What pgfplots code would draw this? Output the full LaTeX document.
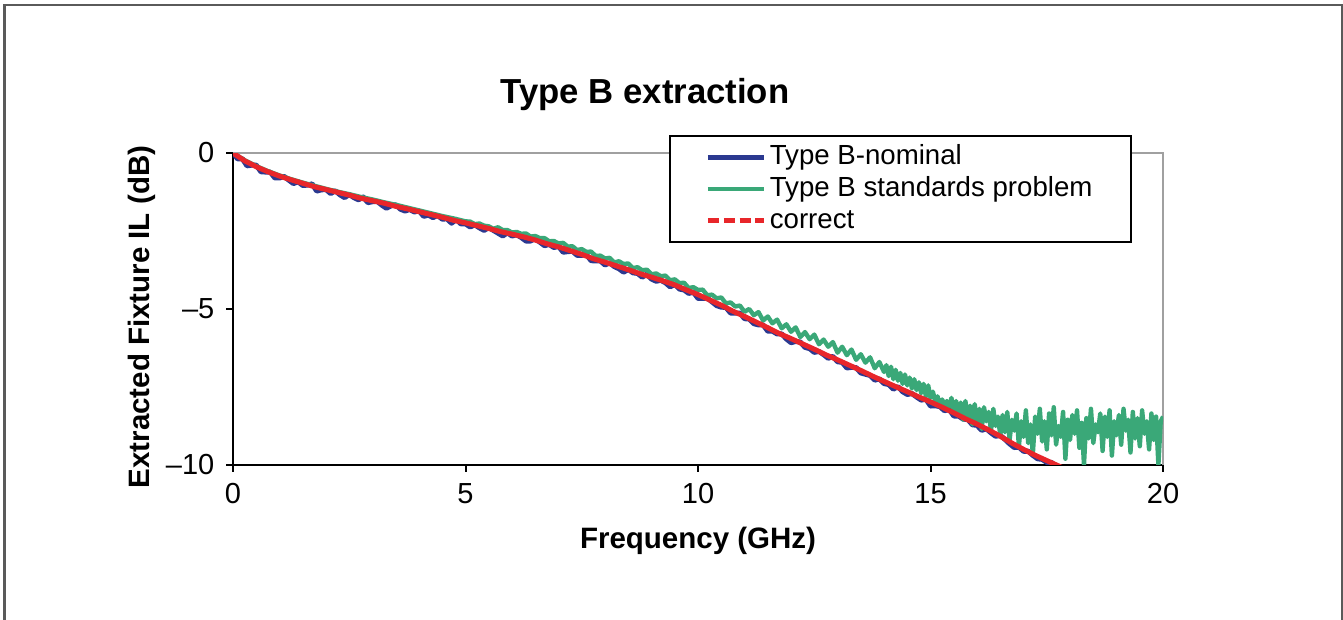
\documentclass[border=0pt]{standalone}
\usepackage{fontspec}
\setmainfont{Liberation Sans}
\usepackage{pgfplots}
\usepackage{pgfplotstable}
\pgfplotsset{compat=1.18}

\definecolor{nomblue}{HTML}{2B3990}
\definecolor{stdgreen}{HTML}{3AA878}
\definecolor{corrred}{HTML}{E8262A}
\definecolor{framegray}{HTML}{5A5A5A}
\definecolor{boxgray}{HTML}{A0A0A0}

% Type B-nominal
\pgfplotstableread{
f il
0.0 0.00
0.1 -0.19
0.2 -0.18
0.3 -0.41
0.4 -0.39
0.5 -0.39
0.6 -0.60
0.7 -0.61
0.8 -0.61
0.9 -0.80
1.0 -0.80
1.1 -0.75
1.2 -0.87
1.3 -0.98
1.4 -0.92
1.5 -1.04
1.6 -1.03
1.7 -0.99
1.8 -1.22
1.9 -1.18
2.0 -1.17
2.1 -1.30
2.2 -1.21
2.3 -1.34
2.4 -1.43
2.5 -1.33
2.6 -1.43
2.7 -1.50
2.8 -1.41
2.9 -1.59
3.0 -1.56
3.1 -1.55
3.2 -1.67
3.3 -1.77
3.4 -1.69
3.5 -1.66
3.6 -1.80
3.7 -1.86
3.8 -1.81
3.9 -1.89
4.0 -1.85
4.1 -2.03
4.2 -1.99
4.3 -2.07
4.4 -2.00
4.5 -2.12
4.6 -2.11
4.7 -2.25
4.8 -2.13
4.9 -2.27
5.0 -2.27
5.1 -2.37
5.2 -2.30
5.3 -2.40
5.4 -2.48
5.5 -2.39
5.6 -2.48
5.7 -2.57
5.8 -2.66
5.9 -2.56
6.0 -2.66
6.1 -2.62
6.2 -2.71
6.3 -2.82
6.4 -2.82
6.5 -2.74
6.6 -2.86
6.7 -2.97
6.8 -2.93
6.9 -3.03
7.0 -2.99
7.1 -3.18
7.2 -3.16
7.3 -3.15
7.4 -3.28
7.5 -3.28
7.6 -3.26
7.7 -3.45
7.8 -3.46
7.9 -3.46
8.0 -3.59
8.1 -3.52
8.2 -3.64
8.3 -3.71
8.4 -3.82
8.5 -3.73
8.6 -3.84
8.7 -3.86
8.8 -3.98
8.9 -3.89
9.0 -4.04
9.1 -4.11
9.2 -4.08
9.3 -4.16
9.4 -4.29
9.5 -4.21
9.6 -4.36
9.7 -4.39
9.8 -4.50
9.9 -4.46
10.0 -4.66
10.1 -4.66
10.2 -4.65
10.3 -4.77
10.4 -4.89
10.5 -4.94
10.6 -4.95
10.7 -5.13
10.8 -5.13
10.9 -5.13
11.0 -5.31
11.1 -5.32
11.2 -5.47
11.3 -5.51
11.4 -5.51
11.5 -5.71
11.6 -5.71
11.7 -5.80
11.8 -5.80
11.9 -5.96
12.0 -6.08
12.1 -6.04
12.2 -6.06
12.3 -6.23
12.4 -6.27
12.5 -6.39
12.6 -6.36
12.7 -6.46
12.8 -6.58
12.9 -6.52
13.0 -6.69
13.1 -6.71
13.2 -6.89
13.3 -6.87
13.4 -6.88
13.5 -7.05
13.6 -7.09
13.7 -7.13
13.8 -7.28
13.9 -7.24
14.0 -7.39
14.1 -7.42
14.2 -7.57
14.3 -7.49
14.4 -7.65
14.5 -7.74
14.6 -7.71
14.7 -7.82
14.8 -7.92
14.9 -7.89
15.0 -8.11
15.1 -8.10
15.2 -8.13
15.3 -8.26
15.4 -8.22
15.5 -8.43
15.6 -8.43
15.7 -8.53
15.8 -8.54
15.9 -8.71
16.0 -8.73
16.1 -8.89
16.2 -8.84
16.3 -8.97
16.4 -9.08
16.5 -9.05
16.6 -9.18
16.7 -9.32
16.8 -9.44
16.9 -9.43
17.0 -9.56
17.1 -9.56
17.2 -9.69
17.3 -9.80
17.4 -9.82
17.5 -9.92
17.6 -9.92
17.7 -10.05
17.8 -10.09
17.9 -10.21
18.0 -10.25
}\nominal

% Type B standards problem
\pgfplotstableread{
f il
0.00 0.00
0.25 -0.23
0.50 -0.42
0.75 -0.58
1.00 -0.72
1.25 -0.84
1.50 -0.95
1.75 -1.05
2.00 -1.15
2.25 -1.24
2.50 -1.32
2.75 -1.41
3.00 -1.49
3.25 -1.58
3.50 -1.66
3.75 -1.75
4.00 -1.84
4.25 -1.93
4.50 -2.02
4.75 -2.10
5.0 -2.19
5.1 -2.20
5.2 -2.28
5.3 -2.26
5.4 -2.33
5.5 -2.35
5.6 -2.43
5.7 -2.38
5.8 -2.47
5.9 -2.47
6.0 -2.55
6.1 -2.53
6.2 -2.59
6.3 -2.58
6.4 -2.68
6.5 -2.66
6.6 -2.73
6.7 -2.73
6.8 -2.83
6.9 -2.82
7.0 -2.90
7.1 -2.88
7.2 -3.00
7.3 -2.99
7.4 -3.11
7.5 -3.08
7.6 -3.17
7.7 -3.16
7.8 -3.30
7.9 -3.29
8.0 -3.38
8.1 -3.36
8.2 -3.51
8.3 -3.47
8.4 -3.56
8.5 -3.54
8.6 -3.69
8.7 -3.66
8.8 -3.76
8.9 -3.74
9.0 -3.89
9.1 -3.86
9.2 -3.95
9.3 -3.93
9.4 -4.08
9.5 -4.05
9.6 -4.17
9.7 -4.16
9.8 -4.33
9.9 -4.30
10.0 -4.39
10.1 -4.38
10.2 -4.56
10.3 -4.54
10.4 -4.66
10.5 -4.63
10.6 -4.82
10.7 -4.79
10.8 -4.92
10.9 -4.89
11.0 -5.09
11.1 -5.00
11.2 -5.20
11.3 -5.10
11.4 -5.37
11.5 -5.24
11.6 -5.46
11.7 -5.34
11.8 -5.62
11.9 -5.49
12.0 -5.73
12.1 -5.59
12.2 -5.90
12.3 -5.74
12.4 -5.97
12.5 -5.82
12.6 -6.13
12.7 -5.98
12.8 -6.21
12.9 -6.06
13.0 -6.40
13.1 -6.21
13.2 -6.48
13.3 -6.30
13.4 -6.63
13.5 -6.45
13.6 -6.72
13.7 -6.55
13.8 -6.90
13.9 -6.70
14.00 -7.02
14.05 -6.80
14.10 -7.15
14.15 -6.85
14.20 -7.25
14.25 -6.95
14.30 -7.30
14.35 -7.05
14.40 -7.40
14.45 -7.10
14.50 -7.45
14.55 -7.20
14.60 -7.55
14.65 -7.25
14.70 -7.60
14.75 -7.35
14.80 -7.70
14.85 -7.40
14.90 -7.80
14.95 -7.45
15.00 -7.85
15.05 -7.65
15.10 -7.95
15.15 -7.80
15.20 -8.05
15.25 -7.90
15.30 -8.10
15.35 -7.95
15.40 -8.15
15.45 -7.85
15.50 -8.30
15.55 -7.95
15.60 -8.40
15.65 -8.00
15.70 -8.55
15.75 -7.95
15.80 -8.50
15.85 -8.10
15.90 -8.70
15.95 -8.05
16.00 -8.65
16.05 -8.20
16.10 -8.85
16.15 -8.15
16.20 -8.60
16.25 -8.30
16.30 -8.90
16.35 -8.20
16.40 -8.75
16.45 -8.45
16.50 -9.05
16.55 -8.40
16.60 -8.95
16.65 -8.30
16.70 -9.20
16.75 -8.55
16.80 -8.90
16.85 -8.35
16.90 -9.40
16.95 -8.60
17.00 -9.10
17.05 -8.25
17.10 -9.30
17.15 -8.70
17.20 -9.65
17.25 -8.45
17.30 -9.00
17.35 -8.20
17.40 -9.25
17.45 -8.60
17.50 -9.50
17.55 -8.35
17.60 -9.05
17.65 -8.15
17.70 -9.35
17.75 -8.75
17.80 -9.10
17.85 -8.30
17.90 -9.80
17.95 -8.55
18.00 -9.20
18.05 -8.40
18.10 -9.00
18.15 -8.25
18.20 -9.45
18.25 -8.65
18.30 -10.00
18.35 -8.50
18.40 -9.15
18.45 -8.20
18.50 -9.30
18.55 -8.70
18.60 -8.95
18.65 -8.35
18.70 -9.55
18.75 -8.45
18.80 -9.10
18.85 -8.25
18.90 -9.70
18.95 -8.60
19.00 -9.05
19.05 -8.40
19.10 -9.35
19.15 -8.20
19.20 -8.90
19.25 -8.55
19.30 -9.60
19.35 -8.30
19.40 -9.15
19.45 -8.50
19.50 -9.40
19.55 -8.25
19.60 -9.00
19.65 -8.60
19.70 -9.50
19.75 -8.35
19.80 -9.20
19.85 -8.45
19.90 -10.00
19.95 -8.60
20.00 -8.45
}\standards

% correct
\pgfplotstableread{
f il
0.00 0.00
0.25 -0.25
0.50 -0.44
0.75 -0.60
1.00 -0.74
1.25 -0.86
1.50 -0.97
1.75 -1.08
2.00 -1.17
2.25 -1.26
2.50 -1.35
2.75 -1.45
3.00 -1.53
3.25 -1.61
3.50 -1.71
3.75 -1.79
4.00 -1.88
4.25 -1.97
4.50 -2.06
4.75 -2.16
5.00 -2.24
5.25 -2.33
5.50 -2.42
5.75 -2.52
6.00 -2.60
6.25 -2.69
6.50 -2.79
6.75 -2.91
7.00 -3.01
7.25 -3.13
7.50 -3.25
7.75 -3.39
8.00 -3.50
8.25 -3.62
8.50 -3.74
8.75 -3.87
9.00 -3.98
9.25 -4.10
9.50 -4.23
9.75 -4.39
10.00 -4.54
10.25 -4.71
10.50 -4.88
10.75 -5.07
11.00 -5.24
11.25 -5.42
11.50 -5.60
11.75 -5.79
12.00 -5.95
12.25 -6.12
12.50 -6.29
12.75 -6.47
13.00 -6.63
13.25 -6.80
13.50 -6.97
13.75 -7.15
14.00 -7.32
14.25 -7.49
14.50 -7.65
14.75 -7.82
15.00 -7.98
15.25 -8.15
15.50 -8.33
15.75 -8.52
16.00 -8.69
16.25 -8.88
16.50 -9.08
16.75 -9.30
17.00 -9.50
17.25 -9.69
17.50 -9.86
17.75 -10.03
18.00 -10.20
}\correct

\begin{document}
\begin{tikzpicture}
\useasboundingbox (0,0) rectangle (14,-6.463);
\draw[framegray, line width=0.6pt] (0.047,-0.052) rectangle (13.99,-7.0);
\node[font=\fontsize{10.3}{12}\selectfont\bfseries] at (6.724,-0.99) {Type B extraction};
\begin{axis}[
  at={(2.429cm,-4.847cm)}, anchor=south west,
  scale only axis, width=9.695cm, height=3.252cm,
  xmin=0, xmax=20, ymin=-10, ymax=0,
  xtick={0,5,10,15,20}, ytick={-10,-5,0},
  yticklabels={\textendash10,\textendash5,0},
  axis lines*=left,
  axis line style={black, line width=0.6pt},
  tick align=outside, major tick length=2pt,
  tick style={black, line width=0.6pt},
  /pgf/number format/assume math mode=true,
  tick label style={font=\fontsize{8.6}{10}\selectfont},
  label style={font=\fontsize{8.75}{10.5}\selectfont\bfseries},
  xlabel={Frequency (GHz)},
  ylabel={Extracted Fixture IL (dB)},
  ylabel style={yshift=-3.9pt, xshift=-2.4pt},
  clip mode=individual,
  legend cell align=left,
  legend image code/.code={\draw[#1] (0pt,0pt) -- (16.6pt,0pt);},
  legend style={at={(0.4688,1.0577)}, anchor=north west, draw=black,
    line width=0.6pt, font=\fontsize{8.2}{9.8}\selectfont,
    inner xsep=10.5pt, inner ysep=1.6pt, row sep=0pt,
    nodes={inner xsep=1pt, inner ysep=0.7pt, text height=6.2pt, text depth=1.8pt}},
]
\draw[boxgray, line width=0.6pt] (rel axis cs:0,1) -- (rel axis cs:1,1) -- (rel axis cs:1,0);
\addplot[nomblue, line width=1.5pt, line join=round] table[x=f, y=il] {\nominal};
\addlegendentry{Type B-nominal}
\addplot[stdgreen, line width=1.3pt, line join=round] table[x=f, y=il] {\standards};
\addlegendentry{Type B standards problem}
\addplot[corrred, line width=1.5pt, line join=round,
  legend image code/.code={\draw[corrred, line width=1.5pt, dash pattern=on 3.3pt off 1.4pt] (0pt,0pt) -- (16.6pt,0pt);}]
  table[x=f, y=il] {\correct};
\addlegendentry{correct}
\end{axis}
\end{tikzpicture}
\end{document}
